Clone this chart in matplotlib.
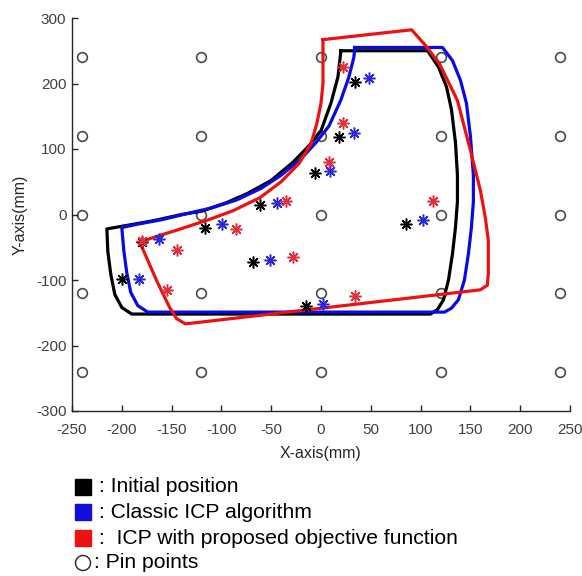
import numpy as np
import matplotlib
matplotlib.use("Agg")
import matplotlib.pyplot as plt
from matplotlib.patches import Rectangle, Circle

plt.rcParams['font.family'] = ['Liberation Sans', 'DejaVu Sans']
plt.rcParams['axes.unicode_minus'] = False

# ---------------- data ----------------
pin_x = [-240, -120, 0, 120, 240]
pin_y = [-240, -120, 0, 120, 240]

# Outline: initial position (black)
init_x = [20, 107, 118, 126, 131, 135, 137, 137, 135, 132, 128, 123, 117, 110,
          -190, -200, -207, -211, -214, -215,
          -200, -170, -140, -120, -95, -74, -50, -28, -12, 0, 10, 17, 20]
init_y = [250, 250, 225, 195, 160, 110, 60, 20, -20, -60, -100, -130, -145, -152,
          -152, -142, -122, -92, -57, -22,
          -18, -10, 0, 5, 18, 32, 52, 80, 105, 128, 170, 210, 250]

# Outline: classic ICP (blue)
icp_x = [34, 122, 132, 140, 146, 150, 153, 153, 151, 148, 144, 138, 131, 124,
         -174, -184, -191, -195, -198, -200,
         -185, -160, -130, -110, -85, -60, -40, -20, -5, 8, 20, 28, 33, 34]
icp_y = [255, 255, 235, 205, 170, 120, 60, 20, -20, -60, -100, -130, -143, -149,
         -149, -139, -119, -89, -55, -20,
         -15, -8, 3, 10, 22, 40, 60, 85, 110, 135, 175, 210, 240, 255]

# Outline: ICP with proposed objective function (red)
prop_x = [2, 91, 105, 119, 137, 150, 160, 165, 168, 168, 167, 160,
          -136, -145, -152, -165, -182,
          -162, -145, -111, -88, -61, -40, -22, -10, -4, 0, 2, 2]
prop_y = [267, 282, 258, 230, 174, 98, 37, -5, -40, -90, -108, -115,
          -167, -159, -142, -101, -42,
          -32, -24, -7, 6, 26, 50, 78, 108, 140, 170, 200, 267]

# Measured points (stars)
init_px = [-200, -180, -116, -61, -68, -15, -6, 18, 34, 85]
init_py = [-99, -42, -20, 14, -73, -140, 64, 119, 203, -14]
icp_px = [-183, -163, -99, -44, -51, 2, 9, 33, 48, 102]
icp_py = [-98, -38, -15, 17, -69, -136, 67, 124, 209, -8]
prop_px = [-180, -145, -155, -85, -35, -28, 34, 112, 8, 22, 22]
prop_py = [-41, -54, -115, -22, 20, -65, -125, 20, 80, 139, 225]

x_ticks = [-250, -200, -150, -100, -50, 0, 50, 100, 150, 200, 250]
y_ticks = [-300, -200, -100, 0, 100, 200, 300]

legend_labels = [": Initial position", ": Classic ICP algorithm",
                 ":  ICP with proposed objective function", ": Pin points"]

# ---------------- figure ----------------
W, H = 582, 576
fig = plt.figure(figsize=(W / 100, H / 100), dpi=100)
ax = fig.add_axes([72 / W, 1 - 411 / H, (570 - 72) / W, (411 - 18) / H])

PX, PY = np.meshgrid(pin_x, pin_y)
ax.plot(PX.ravel(), PY.ravel(), 'o', ms=7, mfc='white', mec='#4a4a4a',
        mew=1.2, ls='none', zorder=1)

lw = 2.3
ax.plot(init_x, init_y, color='black', lw=lw, solid_joinstyle='round', zorder=2)
ax.plot(icp_x, icp_y, color='#0a0ae6', lw=lw, solid_joinstyle='round', zorder=3)
ax.plot(prop_x, prop_y, color='#ee1111', lw=lw, solid_joinstyle='round', zorder=4)

star = (8, 2, 0)
ax.plot(init_px, init_py, ls='none', marker=star, ms=8.5, mec='black', mew=1.1, zorder=5)
ax.plot(icp_px, icp_py, ls='none', marker=star, ms=8.5, mec='#2a2ad8', mew=1.1, zorder=5)
ax.plot(prop_px, prop_py, ls='none', marker=star, ms=8.5, mec='#e0303c', mew=1.1, zorder=6)

ax.set_xlim(-250, 250)
ax.set_ylim(-300, 300)
ax.set_xticks(x_ticks)
ax.set_yticks(y_ticks)
for s in ['top', 'right']:
    ax.spines[s].set_visible(False)
for s in ['left', 'bottom']:
    ax.spines[s].set_color('#262626')
    ax.spines[s].set_linewidth(1.0)
ax.tick_params(direction='in', length=4, width=1, color='#262626',
               labelsize=11, labelcolor='#404040')
ax.tick_params(axis='x', pad=9)
ax.tick_params(axis='y', pad=4)
ax.set_xlabel('X-axis(mm)', fontsize=11.5, color='#262626', labelpad=6)
ax.set_ylabel('Y-axis(mm)', fontsize=11.5, color='#262626', labelpad=6)

# ---------------- legend (custom, below the axes) ----------------
lax = fig.add_axes([0, 0, 1, 1])
lax.set_xlim(0, W)
lax.set_ylim(H, 0)
lax.axis('off')
row_y = [487, 512, 538, 563]
sq_colors = ['black', '#1010d8', '#ee1111']
for yy, c in zip(row_y[:3], sq_colors):
    lax.add_patch(Rectangle((75, yy - 8), 16, 16, color=c))
lax.add_patch(Circle((83, row_y[3]), 7.5, fill=False, ec='#333333', lw=1.1))
text_x = [99, 99, 99, 94]
for yy, xx, t in zip(row_y, text_x, legend_labels):
    lax.text(xx, yy, t, fontsize=15.2, color='black', va='center', ha='left')

fig.savefig('out.png', dpi=100)
